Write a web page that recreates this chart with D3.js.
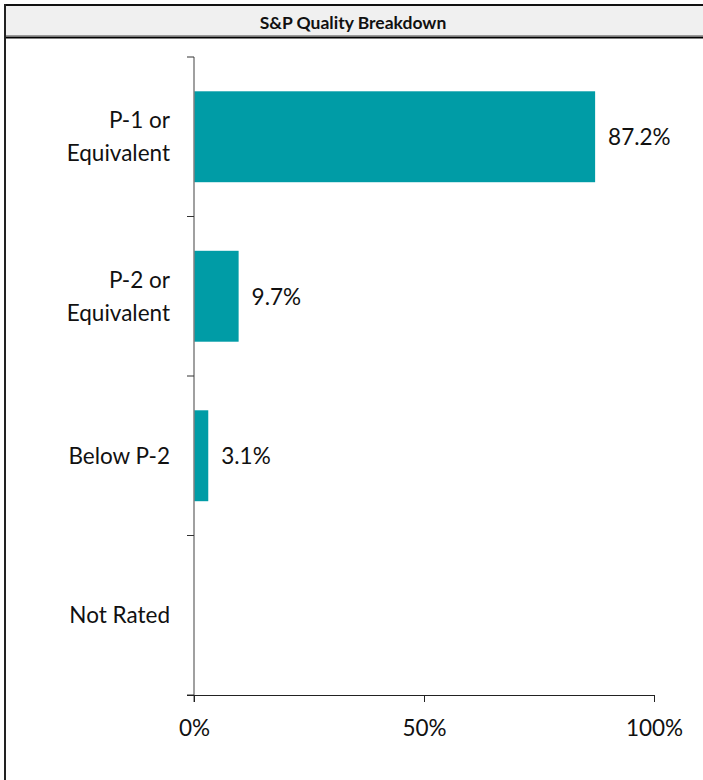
<!DOCTYPE html>
<html>
<head>
<meta charset="utf-8">
<script src="https://cdn.jsdelivr.net/npm/d3@7"></script>
<style>
  body { margin: 0; background: #fff; }
  svg text { font-family: Lato, "Open Sans", sans-serif; }
</style>
</head>
<body>
<div id="chart"></div>
<script>
const title = "S&P Quality Breakdown"
const categories = [["P-1 or", "Equivalent"], ["P-2 or", "Equivalent"], ["Below P-2"], ["Not Rated"]]
const values = [87.2, 9.7, 3.1, null]
const xTicks = [0, 50, 100]

const width = 703, height = 780
const margin = { top: 57, right: 49, bottom: 85, left: 194 } // plot area
const fs = 22.5

const svg = d3.create("svg")
  .attr("width", width)
  .attr("height", height)
  .attr("viewBox", [0, 0, width, height])

// title band
svg.append("rect").attr("x", 5).attr("y", 5).attr("width", width - 5).attr("height", 32)
  .attr("fill", "#f0f0f0")
svg.append("line").attr("x1", 5).attr("x2", width).attr("y1", 5).attr("y2", 5)
  .attr("stroke", "#111").attr("stroke-width", 2)
svg.append("line").attr("x1", 5).attr("x2", width).attr("y1", 35.5).attr("y2", 35.5)
  .attr("stroke", "#999").attr("stroke-width", 1)
svg.append("line").attr("x1", 5).attr("x2", width).attr("y1", 37.5).attr("y2", 37.5)
  .attr("stroke", "#000").attr("stroke-width", 2)
svg.append("line").attr("x1", 5).attr("x2", 5).attr("y1", 4).attr("y2", height)
  .attr("stroke", "#222").attr("stroke-width", 2)
svg.append("text")
  .attr("x", 353).attr("y", 22)
  .attr("text-anchor", "middle").attr("dominant-baseline", "central")
  .attr("font-size", 17.5).attr("font-weight", "bold").attr("fill", "#111")
  .text(title)

const idx = d3.range(categories.length)
const y = d3.scaleBand().domain(idx).range([margin.top, height - margin.bottom]).paddingInner(0.43).paddingOuter(0.215)
const yAxisScale = d3.scaleBand().domain(idx).range([margin.top, height - margin.bottom])
const x = d3.scaleLinear().domain([0, 100]).range([margin.left, width - margin.right])

// bars
svg.append("g").attr("fill", "#009ca6")
  .selectAll("rect")
  .data(idx.filter(i => values[i] != null))
  .join("rect")
  .attr("x", x(0))
  .attr("y", i => y(i))
  .attr("width", i => x(values[i]) - x(0))
  .attr("height", y.bandwidth())

// value labels
svg.append("g")
  .selectAll("text")
  .data(idx.filter(i => values[i] != null))
  .join("text")
  .attr("x", i => x(values[i]) + 13)
  .attr("y", i => y(i) + y.bandwidth() / 2)
  .attr("dominant-baseline", "central")
  .attr("font-size", fs).attr("fill", "#111")
  .text(i => values[i].toFixed(1) + "%")

// y axis: ticks on band edges
const yEdges = idx.map(i => yAxisScale(i)).concat([height - margin.bottom])
const yAx = svg.append("g")
yAx.append("line")
  .attr("x1", x(0)).attr("x2", x(0))
  .attr("y1", margin.top).attr("y2", height - margin.bottom + 7)
  .attr("stroke", "#808080").attr("stroke-width", 1.5)
yAx.selectAll("line.tick")
  .data(yEdges)
  .join("line").attr("class", "tick")
  .attr("x1", x(0) - 7).attr("x2", x(0))
  .attr("y1", d => d).attr("y2", d => d)
  .attr("stroke", "#333").attr("stroke-width", 1)

// category labels
const catG = svg.append("g")
  .selectAll("text")
  .data(idx)
  .join("text")
  .attr("text-anchor", "end")
  .attr("font-size", fs).attr("fill", "#111")
  .attr("x", 170)
  .attr("y", i => yAxisScale(i) + yAxisScale.bandwidth() / 2)
catG.each(function (i) {
  const lines = categories[i]
  const lh = 33
  d3.select(this).selectAll("tspan")
    .data(lines)
    .join("tspan")
    .attr("x", 170)
    .attr("dy", (d, j) => j === 0 ? (-(lines.length - 1) * lh / 2 + 8) : lh)
    .text(d => d)
})

// x axis
const xAxis = d3.axisBottom(x)
  .tickValues(xTicks)
  .tickFormat(d => d + "%")
  .tickSize(7)
  .tickSizeOuter(0)
  .tickPadding(18)
svg.append("g")
  .attr("transform", `translate(0,${height - margin.bottom})`)
  .call(xAxis)
  .call(g => g.select(".domain").attr("stroke", "#222").attr("d", `M${x(0) - 7},0.5H${x(100)}`))
  .call(g => g.selectAll(".tick line").attr("stroke", "#222"))
  .call(g => g.selectAll(".tick text").attr("font-size", fs).attr("fill", "#111")
    .attr("font-family", "Lato, 'Open Sans', sans-serif"))

document.querySelector("#chart").append(svg.node())
</script>
</body>
</html>
